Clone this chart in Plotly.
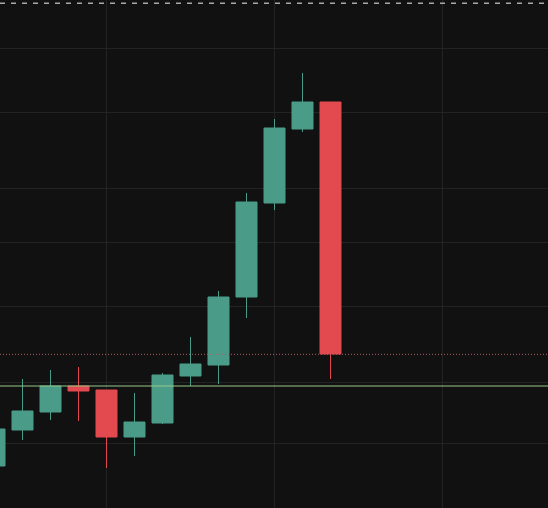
import plotly.graph_objects as go

# Candle data (price units)
idx = list(range(13))
opens  = [24.2, 27.8, 29.6, 32.2, 31.8, 27.1, 28.5, 33.2, 34.3, 41.1, 50.5, 57.9, 60.6]
highs  = [28.2, 32.9, 33.8, 34.1, 31.8, 31.5, 33.5, 37.1, 41.7, 51.5, 58.9, 63.5, 60.6]
lows   = [23.8, 26.8, 28.8, 28.7, 24.0, 25.2, 28.4, 32.2, 32.4, 39.0, 49.8, 57.6, 32.9]
closes = [27.9, 29.7, 32.2, 31.7, 27.1, 28.6, 33.3, 34.4, 41.1, 50.6, 58.0, 60.6, 35.4]

# Horizontal reference levels
top_dash_level = 70.47
last_close_level = 35.37
support_level = 32.2

# Grid levels
y_grid = [66.0, 59.6, 52.0, 46.6, 40.2, 32.6, 26.5]
x_grid = [4, 10, 16]

GREEN = "#4a9c88"
RED = "#e24a50"
BG = "#111111"
GRID = "#232323"

fig = go.Figure()
fig.add_trace(go.Candlestick(
    x=idx, open=opens, high=highs, low=lows, close=closes,
    increasing=dict(line=dict(color=GREEN, width=1), fillcolor=GREEN),
    decreasing=dict(line=dict(color=RED, width=1), fillcolor=RED),
    whiskerwidth=0, showlegend=False, hoverinfo="skip",
))

fig.add_shape(type="line", xref="paper", x0=0, x1=1, yref="y",
              y0=top_dash_level, y1=top_dash_level,
              line=dict(color="#a8a8a8", width=1.5, dash="5px,6px"))
fig.add_shape(type="line", xref="paper", x0=0, x1=1, yref="y",
              y0=last_close_level, y1=last_close_level,
              line=dict(color="#b0606a", width=1, dash="1px,2px"))
fig.add_shape(type="line", xref="paper", x0=0, x1=1, yref="y",
              y0=support_level, y1=support_level,
              line=dict(color="#96c98a", width=1))

fig.update_layout(
    width=548, height=508,
    margin=dict(l=0, r=0, t=0, b=0),
    paper_bgcolor=BG, plot_bgcolor=BG,
    boxgap=0.25, boxgroupgap=0,
    xaxis=dict(range=[0.1964, 19.768], tickvals=x_grid, showticklabels=False,
               showgrid=True, gridcolor=GRID, gridwidth=1, zeroline=False,
               rangeslider=dict(visible=False), fixedrange=True),
    yaxis=dict(range=[20, 70.8], tickvals=y_grid, showticklabels=False,
               showgrid=True, gridcolor=GRID, gridwidth=1, zeroline=False,
               fixedrange=True),
)

fig.write_html(
    "out.html",
    config={"displayModeBar": False},
    post_script="document.body.style.margin='0';document.body.style.overflow='hidden';document.body.style.background='#111111';",
)
